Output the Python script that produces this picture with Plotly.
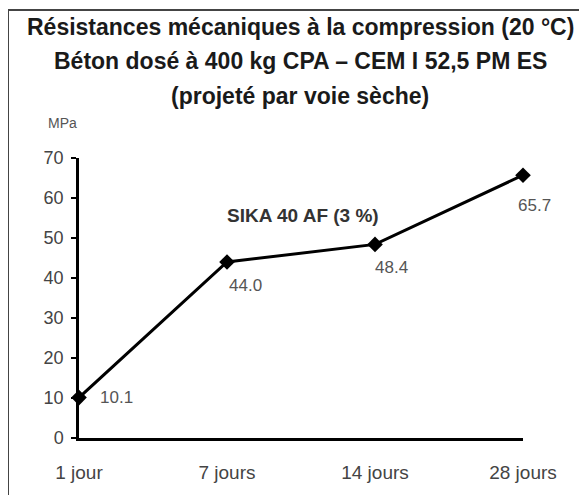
import plotly.graph_objects as go

categories = ["1 jour", "7 jours", "14 jours", "28 jours"]
values = [10.1, 44.0, 48.4, 65.7]
value_labels = ["10.1", "44.0", "48.4", "65.7"]
y_ticks = [0, 10, 20, 30, 40, 50, 60, 70]
series_name = "SIKA 40 AF (3 %)"
title_lines = [
    "Résistances mécaniques à la compression (20 °C)",
    "Béton dosé à 400 kg CPA – CEM I 52,5 PM ES",
    "(projeté par voie sèche)",
]
unit_label = "MPa"

FONT = "Liberation Sans, Arial, sans-serif"

# plot area in page pixels (page has an 8px body margin)
PX0, PX1 = 79, 523
PY0, PY1 = 438, 158  # bottom, top


def px(X):
    return (X - PX0) / (PX1 - PX0)


def py(Y):
    return (PY0 - Y) / (PY0 - PY1)


fig = go.Figure()
fig.add_trace(go.Scatter(
    x=list(range(len(categories))),
    y=values,
    mode="lines+markers",
    line=dict(color="black", width=3),
    marker=dict(symbol="diamond", size=12, color="black"),
    cliponaxis=False,
    showlegend=False,
    hoverinfo="skip",
))

# data labels
label_shifts = [(37, 0), (18, -23), (16, -23), (11, -30)]
for i, (txt, (dx, dy)) in enumerate(zip(value_labels, label_shifts)):
    fig.add_annotation(x=i, y=values[i], text=txt, showarrow=False,
                       xshift=dx, yshift=dy, xref="x", yref="y",
                       font=dict(family=FONT, size=17, color="#555"))

# series label
fig.add_annotation(x=px(303), y=py(203), xref="paper", yref="paper",
                   text="<b>%s</b>" % series_name,
                   showarrow=False, font=dict(family=FONT, size=19, color="#333"))

# title lines
for txt, ypix in zip(title_lines, [27, 61, 96]):
    fig.add_annotation(x=px(300), y=py(ypix), xref="paper", yref="paper",
                       text="<b>%s</b>" % txt, showarrow=False, yanchor="middle",
                       font=dict(family=FONT, size=23, color="#1a1a1a"))

# unit label
fig.add_annotation(x=px(46), y=py(123), xref="paper", yref="paper", text=unit_label,
                   showarrow=False, yanchor="middle",
                   font=dict(family=FONT, size=14, color="#555"))

# frame (left and top edges)
fig.add_shape(type="line", xref="paper", yref="paper",
              x0=px(8), x1=px(8), y0=py(500), y1=py(10),
              line=dict(color="#444", width=2))
fig.add_shape(type="line", xref="paper", yref="paper",
              x0=px(8), x1=px(590), y0=py(10), y1=py(10),
              line=dict(color="#444", width=2))

fig.update_layout(
    width=579, height=487,
    margin=dict(l=PX0 - 8, r=587 - PX1 - 0, t=PY1 - 8, b=495 - PY0),
    paper_bgcolor="white", plot_bgcolor="white",
    font=dict(family=FONT, color="#444"),
    xaxis=dict(
        range=[0, 3], tickmode="array", tickvals=list(range(len(categories))),
        ticktext=categories, showgrid=False, zeroline=False,
        showline=True, linecolor="black", linewidth=2.5,
        ticks="", ticklabelstandoff=15,
        tickfont=dict(family=FONT, size=19, color="#444"),
    ),
    yaxis=dict(
        range=[0, 70], tickmode="array", tickvals=y_ticks, showgrid=False, zeroline=False,
        showline=True, linecolor="black", linewidth=2.5,
        ticks="outside", ticklen=5, tickwidth=1.5, tickcolor="black",
        ticklabelstandoff=4,
        tickfont=dict(family=FONT, size=18, color="#444"),
    ),
)

fig.write_html("out.html")
